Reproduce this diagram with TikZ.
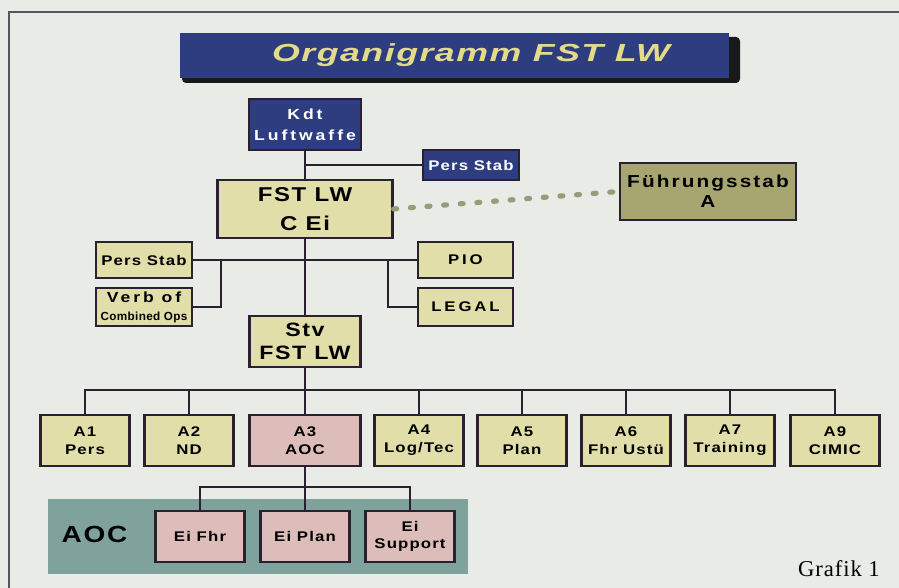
\documentclass[tikz,border=0pt]{standalone}
\usepackage{fontspec}
\setmainfont{Liberation Sans}
\newfontfamily\boxfont{Liberation Sans}[FakeStretch=1.2,LetterSpace=8]
\newfontfamily\medfont{Liberation Sans}[FakeStretch=1.2,LetterSpace=12]
\newfontfamily\widefont{Liberation Sans}[FakeStretch=1.2,LetterSpace=20]
\newfontfamily\combfont{Liberation Sans}[LetterSpace=3]
\newfontfamily\titlefont{Liberation Sans}[FakeStretch=1.45,LetterSpace=6]
\newfontfamily\grafikfont{Liberation Serif}[LetterSpace=4]

\definecolor{cBg}{HTML}{E9EBE6}
\definecolor{cNavy}{HTML}{2E3D80}
\definecolor{cTitle}{HTML}{E3DB8B}
\definecolor{cKhaki}{HTML}{E2DEA9}
\definecolor{cOlive}{HTML}{A8A670}
\definecolor{cPink}{HTML}{DDBDB9}
\definecolor{cTeal}{HTML}{7FA29C}
\definecolor{cEdge}{HTML}{2B2030}
\definecolor{cDots}{HTML}{999C7B}
\definecolor{cFrame}{HTML}{55555F}

\begin{document}
\begin{tikzpicture}[x=0.75pt,y=-0.75pt,
  box/.style={draw=cEdge,line width=1.9pt,inner sep=0pt,align=center,
    minimum width=66.75pt,minimum height=38.25pt,
    font=\boxfont\bfseries\fontsize{10.5}{13.3}\selectfont},
  bluebox/.style={box,fill=cNavy,text=white},
  khakibox/.style={box,fill=cKhaki},
  olivebox/.style={box,fill=cOlive},
  pinkbox/.style={box,fill=cPink},
  fs/.style 2 args={font=\boxfont\bfseries\fontsize{#1}{#2}\selectfont},
  wfs/.style 2 args={font=\widefont\bfseries\fontsize{#1}{#2}\selectfont},
  dim/.style 2 args={minimum width=#1,minimum height=#2},
  link/.style={draw=cEdge,line width=1.6pt},
  dotline/.style={draw=cDots,line width=3.9pt,line cap=round,dash pattern=on 2.2pt off 10.3pt}]
\useasboundingbox (0,0) rectangle (899,588);
\fill[cBg] (0,0) rectangle (899,588);
\draw[cFrame,line width=0.8pt] (9,588) -- (9,12) -- (899,12);

% title bar
\fill[black!90,rounded corners=3pt] (182,37) rectangle (740,83);
\fill[cNavy] (180,33) rectangle (729,78);
\node[text=cTitle,font=\titlefont\bfseries\itshape\fontsize{18.5}{23}\selectfont] (title) at (471,55) {Organigramm FST LW};

% AOC band
\fill[cTeal] (48,499) rectangle (468,574);

\path
(305,124.5) node [bluebox,dim={84pt}{38.25pt},wfs={11}{16}] (kdt) {Kdt\\Luftwaffe}
(471,165) node [bluebox,dim={72pt}{22.5pt}] (persstab) {Pers Stab}
(305,209) node [khakibox,dim={131.25pt}{43.5pt},fs={15}{22}] (fst) {FST LW\\C Ei}
(708,191.5) node [olivebox,dim={132pt}{42.75pt},font=\medfont\bfseries\fontsize{13}{15}\selectfont] (fuehr) {Führungsstab\\A}
(144,260) node [khakibox,dim={72pt}{27pt}] (stab) {Pers Stab}
(144,307) node [khakibox,dim={72pt}{28.5pt},wfs={11}{13.5}] (verb) {Verb of\\{\combfont\bfseries\fontsize{8.8}{10}\selectfont Combined Ops}}
(465.5,260) node [khakibox,dim={71.25pt}{27pt},wfs={10.5}{13}] (pio) {PIO}
(465.5,307) node [khakibox,dim={71.25pt}{28.5pt},wfs={10.5}{13}] (legal) {LEGAL}
(305,341.5) node [khakibox,dim={83.25pt}{38.25pt},fs={14.5}{17}] (stv) {Stv\\FST LW}
;

% Abteilungen
\path
(85,440.5) node [khakibox] (a1) {A1\\Pers}
(189,440.5) node [khakibox] (a2) {A2\\ND}
(305,440.5) node [pinkbox,dim={83.25pt}{38.25pt}] (a3) {A3\\AOC}
(419,440.5) node [khakibox] (a4) {A4\\Log/Tec}
(522,440.5) node [khakibox] (a5) {A5\\Plan}
(626,440.5) node [khakibox] (a6) {A6\\Fhr Ustü}
(730,440.5) node [khakibox] (a7) {A7\\Training}
(835,440.5) node [khakibox] (a9) {A9\\CIMIC}
;

\path
(200,536.5) node [pinkbox] (eifhr) {Ei Fhr}
(305,536.5) node [pinkbox] (eiplan) {Ei Plan}
(410,536.5) node [pinkbox] (eisup) {Ei\\Support}
(94.5,534) node [fs={17.5}{22}] (aoc) {AOC}
(839,576) node [anchor=base,font=\grafikfont\fontsize{17}{20}\selectfont] (grafik) {Grafik 1}
;

% connectors
\draw[link] (kdt.south) -- (fst.north);
\draw[link] (persstab.west) -- (persstab.west -| kdt.south);
\draw[dotline] (fst.east) -- (fuehr.west);

\coordinate (jl) at (221,260);
\coordinate (jr) at (388,260);
\draw[link] (stab.east) -- (pio.west);
\draw[link] (verb.east) -| (jl);
\draw[link] (legal.west) -| (jr);
\draw[link] (fst.south) -- (stv.north);

\coordinate (bus) at (305,390);
\draw[link] (stv.south) -- (a3.north);
\draw[link] (a1.north) |- (bus) -| (a9.north);
\draw[link] (a2.north) -- (a2.north |- bus);
\draw[link] (a4.north) -- (a4.north |- bus);
\draw[link] (a5.north) -- (a5.north |- bus);
\draw[link] (a6.north) -- (a6.north |- bus);
\draw[link] (a7.north) -- (a7.north |- bus);

\coordinate (eibus) at (305,487);
\draw[link] (a3.south) -- (eiplan.north);
\draw[link] (eifhr.north) |- (eibus) -| (eisup.north);
\end{tikzpicture}
\end{document}
